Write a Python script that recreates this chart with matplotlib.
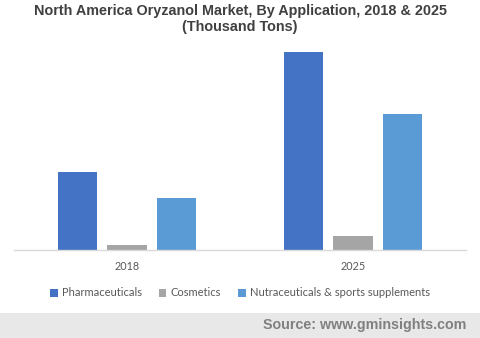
import matplotlib
matplotlib.use("Agg")
import matplotlib.pyplot as plt
from matplotlib.patches import Patch, Rectangle

years = ["2018", "2025"]
series = ["Pharmaceuticals", "Cosmetics", "Nutraceuticals & sports supplements"]
pharma = [7.8, 19.8]
cosmetics = [0.5, 1.4]
nutra = [5.2, 13.6]
colors = ["#4472C4", "#A5A5A5", "#5B9BD5"]

fig = plt.figure(figsize=(4.8, 3.38), dpi=100)
ax = fig.add_axes([14/480, 88/338, 452/480, 205/338])

width = 0.173
step = 0.221
for i, (vals, c) in enumerate(zip([pharma, cosmetics, nutra], colors)):
    xs = [k + (i - 1) * step for k in range(len(years))]
    ax.bar(xs, vals, width=width, color=c, zorder=2)

ax.set_xlim(-0.5, 1.5)
ax.set_ylim(0, 20.5)
ax.set_yticks([])
ax.set_xticks(range(len(years)))
ax.set_xticklabels(years, fontsize=7.8, color="#595959", fontfamily="Lato")
ax.tick_params(axis="x", length=0, pad=8)
for s in ["top", "right", "left"]:
    ax.spines[s].set_visible(False)
ax.spines["bottom"].set_color("#D9D9D9")
ax.spines["bottom"].set_linewidth(1.0)

fig.text(0.5, 1 - 11/338, "North America Oryzanol Market, By Application, 2018 & 2025",
         ha="center", va="center", fontsize=10.4, fontweight="bold", color="#404040",
         fontfamily="Liberation Sans")
fig.text(0.5, 1 - 27/338, "(Thousand Tons)",
         ha="center", va="center", fontsize=10.4, fontweight="bold", color="#404040",
         fontfamily="Liberation Sans")

handles = [Patch(facecolor=c, edgecolor="none") for c in colors]
fig.legend(handles, series, loc="center", bbox_to_anchor=(0.5, 1 - 293/338), ncol=3,
           frameon=False, handlelength=0.7, handleheight=0.7, handletextpad=0.4,
           columnspacing=1.5, prop={"family": "Lato", "size": 8}, labelcolor="#595959")

fig.patches.append(Rectangle((0, 0), 1, 25/338, transform=fig.transFigure,
                             facecolor="#E8E8E8", edgecolor="none", zorder=0))
fig.text(466/480, 12.5/338, "Source: www.gminsights.com", ha="right", va="center",
         fontsize=10.3, fontweight="bold", color="#808080", fontfamily="Liberation Sans")

fig.savefig("out.png", dpi=100)
